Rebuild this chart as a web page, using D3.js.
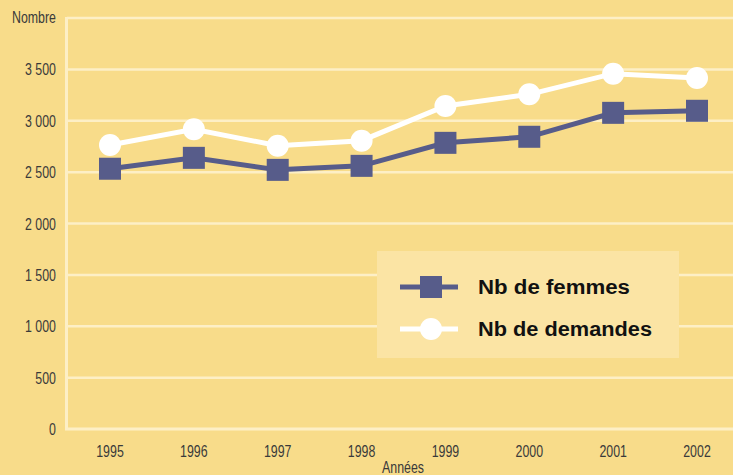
<!DOCTYPE html>
<html>
<head>
<meta charset="utf-8">
<script src="https://cdn.jsdelivr.net/npm/d3@7"></script>
<style>
  html, body { margin: 0; padding: 0; background: #f8dc8a; }
  svg { display: block; }
  .tick-label { font-family: "Liberation Sans", Arial, sans-serif; font-size: 16.5px; fill: #3a3a3a; }
  .legend-label { font-family: "Liberation Sans", Arial, sans-serif; font-size: 20px; font-weight: bold; fill: #111; }
</style>
</head>
<body>
<svg id="chart"></svg>
<script>
  // Data
  const years = ["1995", "1996", "1997", "1998", "1999", "2000", "2001", "2002"]
  const femmes = [2533, 2639, 2522, 2561, 2785, 2844, 3077, 3097]
  const demandes = [2764, 2917, 2757, 2806, 3143, 3257, 3458, 3416]
  const yTicks = [0, 500, 1000, 1500, 2000, 2500, 3000, 3500]
  const gridValues = [500, 1000, 1500, 2000, 2500, 3000, 3500, 4000]

  const width = 733
  const height = 475
  const bg = "#f8dc8a"
  const gridColor = "#fdefc6"
  const navy = "#575c8a"
  const squeeze = 0.75   // condensed look of the original font

  const svg = d3.select("#chart")
      .attr("width", width)
      .attr("height", height)

  svg.append("rect")
      .attr("width", width)
      .attr("height", height)
      .attr("fill", bg)

  const x = d3.scalePoint()
      .domain(years)
      .range([110, 697])

  const y = d3.scaleLinear()
      .domain([0, 4000])
      .range([429, 18])

  const fmt = d3.formatLocale({ decimal: ",", thousands: " ", grouping: [3], currency: ["", " €"] }).format(",d")

  // grid lines
  svg.append("g")
      .selectAll("line")
      .data(gridValues)
      .enter().append("line")
      .attr("x1", 67)
      .attr("x2", width)
      .attr("y1", d => y(d))
      .attr("y2", d => y(d))
      .attr("stroke", gridColor)
      .attr("stroke-width", 2.5)

  // axes frame
  svg.append("line")
      .attr("x1", 66.5).attr("x2", 66.5)
      .attr("y1", y(4000) - 1).attr("y2", y(0) + 1)
      .attr("stroke", gridColor)
      .attr("stroke-width", 3)
  svg.append("line")
      .attr("x1", 65).attr("x2", width)
      .attr("y1", y(0)).attr("y2", y(0))
      .attr("stroke", gridColor)
      .attr("stroke-width", 3)

  function place(px, py) {
    return `translate(${px},${py}) scale(${squeeze},1)`
  }

  // y tick labels
  svg.append("g")
      .selectAll("text")
      .data(yTicks)
      .enter().append("text")
      .attr("class", "tick-label")
      .attr("transform", d => place(56, y(d) + 6))
      .attr("text-anchor", "end")
      .text(d => fmt(d))

  svg.append("text")
      .attr("class", "tick-label")
      .attr("transform", place(56, 23))
      .attr("text-anchor", "end")
      .text("Nombre")

  // x tick labels
  svg.append("g")
      .selectAll("text")
      .data(years)
      .enter().append("text")
      .attr("class", "tick-label")
      .attr("transform", d => place(x(d), 457))
      .attr("text-anchor", "middle")
      .text(d => d)

  svg.append("text")
      .attr("class", "tick-label")
      .attr("transform", place(403, 473))
      .attr("text-anchor", "middle")
      .text("Années")

  const line = d3.line()
      .x((d, i) => x(years[i]))
      .y(d => y(d))

  // demandes series (white, circles)
  svg.append("path")
      .datum(demandes)
      .attr("d", line)
      .attr("fill", "none")
      .attr("stroke", "#ffffff")
      .attr("stroke-width", 5)

  svg.append("g")
      .selectAll("circle")
      .data(demandes)
      .enter().append("circle")
      .attr("cx", (d, i) => x(years[i]))
      .attr("cy", d => y(d))
      .attr("r", 11)
      .attr("fill", "#ffffff")

  // femmes series (navy, squares)
  svg.append("path")
      .datum(femmes)
      .attr("d", line)
      .attr("fill", "none")
      .attr("stroke", navy)
      .attr("stroke-width", 5)

  svg.append("g")
      .selectAll("rect")
      .data(femmes)
      .enter().append("rect")
      .attr("x", (d, i) => x(years[i]) - 11)
      .attr("y", d => y(d) - 11)
      .attr("width", 22)
      .attr("height", 22)
      .attr("fill", navy)

  // legend
  const legend = svg.append("g")
  legend.append("rect")
      .attr("x", 377)
      .attr("y", 251)
      .attr("width", 302)
      .attr("height", 107)
      .attr("fill", "#fbe4a4")

  const legendData = [
    { label: "Nb de femmes", color: navy, shape: "square", cy: 287, len: 152 },
    { label: "Nb de demandes", color: "#ffffff", shape: "circle", cy: 329, len: 174 }
  ]

  const items = legend.selectAll(".legend-item")
      .data(legendData)
      .enter().append("g")
      .attr("class", "legend-item")

  items.append("line")
      .attr("x1", 400)
      .attr("x2", 458)
      .attr("y1", d => d.cy)
      .attr("y2", d => d.cy)
      .attr("stroke", d => d.color)
      .attr("stroke-width", 5)

  items.filter(d => d.shape === "square").append("rect")
      .attr("x", 420)
      .attr("y", d => d.cy - 11)
      .attr("width", 22)
      .attr("height", 22)
      .attr("fill", d => d.color)

  items.filter(d => d.shape === "circle").append("circle")
      .attr("cx", 431)
      .attr("cy", d => d.cy)
      .attr("r", 11)
      .attr("fill", d => d.color)

  items.append("text")
      .attr("class", "legend-label")
      .attr("x", 478)
      .attr("y", d => d.cy + 7)
      .attr("textLength", d => d.len)
      .attr("lengthAdjust", "spacingAndGlyphs")
      .text(d => d.label)
</script>
</body>
</html>
